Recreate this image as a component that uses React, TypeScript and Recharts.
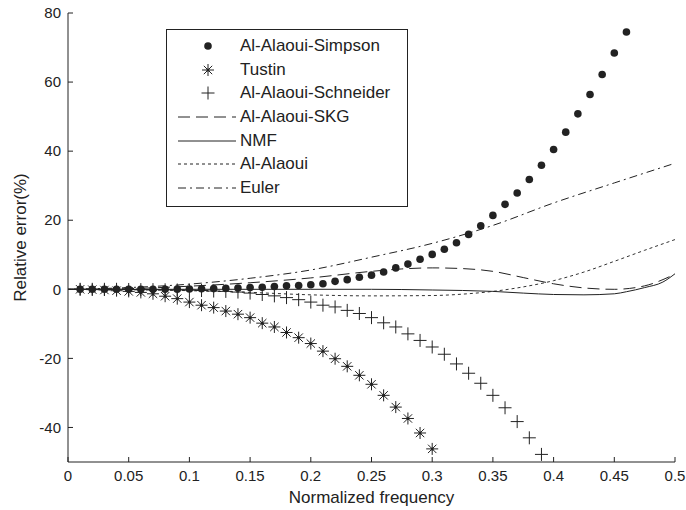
import { ComposedChart, Line, Scatter, XAxis, YAxis, Legend } from 'recharts'

document.body.style.margin = '0'

const FONT = 'Arial, "Liberation Sans", Helvetica, sans-serif'
const INK = '#222'

// marker series, sampled every 0.01 of normalized frequency
const simpsonX = [0.01, 0.02, 0.03, 0.04, 0.05, 0.06, 0.07, 0.08, 0.09, 0.1, 0.11, 0.12, 0.13, 0.14, 0.15, 0.16, 0.17, 0.18, 0.19, 0.2, 0.21, 0.22, 0.23, 0.24, 0.25, 0.26, 0.27, 0.28, 0.29, 0.3, 0.31, 0.32, 0.33, 0.34, 0.35, 0.36, 0.37, 0.38, 0.39, 0.4, 0.41, 0.42, 0.43, 0.44, 0.45, 0.46]
const simpsonY = [0, 0, 0, 0, 0, 0, 0, 0, 0.05, 0.1, 0.15, 0.2, 0.3, 0.4, 0.5, 0.6, 0.8, 1.0, 1.1, 1.3, 1.6, 2.3, 2.8, 3.5, 4.1, 5.0, 6.2, 7.3, 8.7, 10.1, 11.6, 13.5, 15.9, 18.4, 21.4, 24.6, 27.9, 31.8, 35.9, 40.5, 45.5, 50.8, 56.4, 62.2, 68.4, 74.5]

const tustinX = [0.01, 0.02, 0.03, 0.04, 0.05, 0.06, 0.07, 0.08, 0.09, 0.1, 0.11, 0.12, 0.13, 0.14, 0.15, 0.16, 0.17, 0.18, 0.19, 0.2, 0.21, 0.22, 0.23, 0.24, 0.25, 0.26, 0.27, 0.28, 0.29, 0.3]
const tustinY = [0, -0.1, -0.2, -0.4, -0.6, -0.9, -1.3, -2.0, -2.7, -3.7, -4.6, -5.3, -6.3, -7.2, -8.2, -9.8, -10.9, -12.5, -14.0, -15.7, -17.9, -20.1, -22.3, -24.9, -27.5, -30.7, -34.1, -37.4, -41.6, -46.2]

const schneiderX = [0.01, 0.02, 0.03, 0.04, 0.05, 0.06, 0.07, 0.08, 0.09, 0.1, 0.11, 0.12, 0.13, 0.14, 0.15, 0.16, 0.17, 0.18, 0.19, 0.2, 0.21, 0.22, 0.23, 0.24, 0.25, 0.26, 0.27, 0.28, 0.29, 0.3, 0.31, 0.32, 0.33, 0.34, 0.35, 0.36, 0.37, 0.38, 0.39]
const schneiderY = [0, 0, 0, 0, -0.05, -0.1, -0.1, -0.15, -0.2, -0.25, -0.35, -0.5, -0.6, -0.8, -1.1, -1.5, -1.9, -2.4, -3.0, -3.7, -4.6, -5.1, -6.1, -7.0, -8.2, -9.7, -10.9, -12.9, -14.8, -16.7, -18.8, -21.6, -24.3, -27.2, -30.7, -34.3, -38.3, -43.0, -47.8]

// line series
const skgX = [0, 0.05, 0.1, 0.15, 0.2, 0.25, 0.275, 0.3, 0.325, 0.35, 0.375, 0.4, 0.425, 0.45, 0.475, 0.5]
const skgY = [0, 0.2, 0.9, 1.9, 3.3, 5.2, 5.9, 6.2, 6.0, 5.2, 3.4, 1.6, 0.4, 0, 1.0, 4.4]

const nmfX = [0, 0.1, 0.2, 0.25, 0.3, 0.35, 0.375, 0.4, 0.425, 0.45, 0.46, 0.475, 0.49, 0.5]
const nmfY = [0, 0, 0, 0, -0.2, -0.6, -1.1, -1.5, -1.6, -1.3, -0.7, 0.5, 2.1, 4.5]

const alaouiX = [0, 0.05, 0.1, 0.15, 0.2, 0.25, 0.3, 0.325, 0.35, 0.375, 0.4, 0.425, 0.45, 0.475, 0.5]
const alaouiY = [0, -0.1, -0.4, -0.9, -1.6, -1.9, -1.8, -1.4, -0.6, 0.7, 2.5, 5.0, 8.1, 11.3, 14.4]

const eulerX = [0, 0.05, 0.1, 0.15, 0.2, 0.25, 0.3, 0.35, 0.4, 0.45, 0.5]
const eulerY = [0, 0.5, 1.5, 3.2, 5.6, 9.3, 13.3, 18.5, 25.0, 30.8, 36.5]

const xTicks = [0, 0.05, 0.1, 0.15, 0.2, 0.25, 0.3, 0.35, 0.4, 0.45, 0.5]
const yTicks = [-40, -20, 0, 20, 40, 60, 80]

const zip = (xs: number[], ys: number[]) => xs.map((x, i) => ({ x, y: ys[i] }))

const Dot = ({ cx, cy }: any) => <circle cx={cx} cy={cy} r={3.8} fill={INK} />

const Star = ({ cx, cy }: any) => (
  <g stroke={INK} strokeWidth={1}>
    <line x1={cx - 6} y1={cy} x2={cx + 6} y2={cy} />
    <line x1={cx} y1={cy - 6} x2={cx} y2={cy + 6} />
    <line x1={cx - 4.2} y1={cy - 4.2} x2={cx + 4.2} y2={cy + 4.2} />
    <line x1={cx - 4.2} y1={cy + 4.2} x2={cx + 4.2} y2={cy - 4.2} />
    <circle cx={cx} cy={cy} r={1.5} fill={INK} stroke="none" />
  </g>
)

const Plus = ({ cx, cy }: any) => (
  <g stroke={INK} strokeWidth={1}>
    <line x1={cx - 6.5} y1={cy} x2={cx + 6.5} y2={cy} />
    <line x1={cx} y1={cy - 6.5} x2={cx} y2={cy + 6.5} />
  </g>
)

const legendRows = [
  { name: 'Al-Alaoui-Simpson', marker: Dot },
  { name: 'Tustin', marker: Star },
  { name: 'Al-Alaoui-Schneider', marker: Plus },
  { name: 'Al-Alaoui-SKG', dash: '12 6' },
  { name: 'NMF', dash: '' },
  { name: 'Al-Alaoui', dash: '3 3' },
  { name: 'Euler', dash: '8 4 2 4' },
]

const LegendBox = () => (
  <div style={{ width: 242, height: 178, boxSizing: 'border-box', border: `1px solid ${INK}`, background: '#fff', paddingTop: 4 }}>
    {legendRows.map(r => {
      const M = r.marker
      return (
        <div key={r.name} style={{ height: 23.7, display: 'flex', alignItems: 'center' }}>
          <svg width={72} height={20} style={{ flex: 'none' }}>
            {M ? <M cx={41} cy={10} /> : <line x1={11} y1={10} x2={69} y2={10} stroke={INK} strokeDasharray={r.dash} />}
          </svg>
          <span style={{ marginLeft: 1, fontFamily: FONT, fontSize: 17, color: INK, whiteSpace: 'nowrap' }}>{r.name}</span>
        </div>
      )
    })}
  </div>
)

const BottomTick = ({ x, y, payload }: any) => (
  <g>
    <line x1={x} y1={y - 8} x2={x} y2={y - 13} stroke={INK} />
    <text x={x} y={y} dy="0.71em" textAnchor="middle" fontSize={15} fill={INK} fontFamily={FONT}>{payload.value}</text>
  </g>
)

const TopTick = ({ x, y }: any) => <line x1={x} y1={y} x2={x} y2={y + 5} stroke={INK} />

const LeftTick = ({ x, y, payload }: any) => (
  <g>
    <line x1={x + 7} y1={y} x2={x + 12} y2={y} stroke={INK} />
    <text x={x} y={y} dy="0.35em" textAnchor="end" fontSize={15} fill={INK} fontFamily={FONT}>{payload.value}</text>
  </g>
)

const RightTick = ({ x, y }: any) => <line x1={x} y1={y} x2={x - 5} y2={y} stroke={INK} />

export default function App() {
  return (
    <div style={{ width: 686, height: 510, background: '#fff', position: 'relative' }}>
      <ComposedChart width={686} height={510} margin={{ top: 13, right: 11, left: 0, bottom: 0 }}>
        <XAxis
          dataKey="x"
          type="number"
          domain={[0, 0.5]}
          ticks={xTicks}
          height={48}
          tickSize={0}
          tickMargin={8}
          tickLine={false}
          axisLine={{ stroke: INK }}
          tick={<BottomTick />}
          interval={0}
          label={{ value: 'Normalized frequency', position: 'insideBottom', offset: 7, fontSize: 17, fill: INK, fontFamily: FONT }}
        />
        <XAxis
          xAxisId="top"
          orientation="top"
          dataKey="x"
          type="number"
          domain={[0, 0.5]}
          ticks={xTicks}
          height={0}
          tickSize={0}
          tickMargin={0}
          tickLine={false}
          axisLine={{ stroke: INK }}
          tick={<TopTick />}
          interval={0}
        />
        <YAxis
          type="number"
          domain={[-50, 80]}
          ticks={yTicks}
          width={68}
          tickSize={0}
          tickMargin={7}
          tickLine={false}
          axisLine={{ stroke: INK }}
          tick={<LeftTick />}
          interval={0}
          label={{ value: 'Relative error(%)', angle: -90, position: 'insideLeft', offset: 20, fontSize: 17, fill: INK, fontFamily: FONT, style: { textAnchor: 'middle' } }}
        />
        <YAxis
          yAxisId="right"
          orientation="right"
          type="number"
          domain={[-50, 80]}
          ticks={yTicks}
          width={0}
          tickSize={0}
          tickMargin={0}
          tickLine={false}
          axisLine={{ stroke: INK }}
          tick={<RightTick />}
          interval={0}
        />
        <Legend
          layout="vertical"
          align="center"
          verticalAlign="middle"
          wrapperStyle={{ left: 166, top: 29, width: 242, height: 178 }}
          content={() => <LegendBox />}
        />
        <Line data={zip(eulerX, eulerY)} dataKey="y" name="Euler" type="monotone" stroke={INK} strokeWidth={1} strokeDasharray="8 4 2 4" dot={false} isAnimationActive={false} />
        <Line data={zip(alaouiX, alaouiY)} dataKey="y" name="Al-Alaoui" type="monotone" stroke="#333" strokeWidth={1} strokeDasharray="3 3" dot={false} isAnimationActive={false} />
        <Line data={zip(nmfX, nmfY)} dataKey="y" name="NMF" type="monotone" stroke={INK} strokeWidth={1} dot={false} isAnimationActive={false} />
        <Line data={zip(skgX, skgY)} dataKey="y" name="Al-Alaoui-SKG" type="monotone" stroke={INK} strokeWidth={1} strokeDasharray="12 6" dot={false} isAnimationActive={false} />
        <Scatter data={zip(schneiderX, schneiderY)} dataKey="y" name="Al-Alaoui-Schneider" shape={<Plus />} isAnimationActive={false} />
        <Scatter data={zip(tustinX, tustinY)} dataKey="y" name="Tustin" shape={<Star />} isAnimationActive={false} />
        <Scatter data={zip(simpsonX, simpsonY)} dataKey="y" name="Al-Alaoui-Simpson" shape={<Dot />} isAnimationActive={false} />
      </ComposedChart>
    </div>
  )
}
